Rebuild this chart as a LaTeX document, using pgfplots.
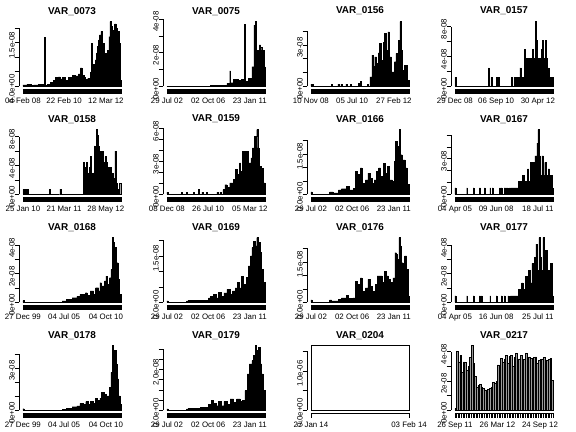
\documentclass[border=0pt]{standalone}
\usepackage{fontspec}
\setmainfont{Liberation Sans}
\usepackage{pgfplots}
\pgfplotsset{compat=1.18}
\pgfplotsset{
  rp/.style={
    scale only axis, width=106bp, height=70bp,
    xmin=-0.04, xmax=1.04,
    axis x line*=bottom, axis y line*=left,
    axis line style={draw=none},
    tick align=outside,
    major tick length=4.5bp, minor tick length=4.5bp,
    tick style={black, line width=0.75bp},
    minor xtick={0,0.005,...,1},
    xtick={0,0.42,0.845},
    ticklabel style={font=\fontsize{7.9}{9.5}\selectfont, inner sep=0pt},
    xticklabel style={anchor=north, yshift=-4.3bp},
    yticklabel style={rotate=90, anchor=base, xshift=-2.5bp},
    every axis title shift=0pt,
    title style={font=\bfseries\fontsize{10}{12}\selectfont, at={(0.5,1)}, anchor=base, yshift=5bp},
    clip=false,
    anchor=south west,
  },
  axl/.style={black, line width=0.75bp, forget plot},
  dense/.style={const plot, fill=black, draw=black, line width=0.4bp},
  sparse/.style={ybar interval, fill=black!35, draw=black, line width=0.35bp},
}
\begin{document}
\begin{tikzpicture}
\useasboundingbox (0,0) rectangle (576bp,-432bp);
\fill[white] (0,0) rectangle (576bp,-432bp);

% ---------------- row 0 ----------------
\begin{axis}[rp, at={(19bp,-89bp)}, title={VAR\_0073},
  ymin=-0.0892, ymax=2.319, ytick={0,0.5,1,1.5,2}, yticklabels={0.0e+00,,,1.5e-08,},
  xticklabels={04 Feb 08,22 Feb 10,12 Mar 12}]
\addplot[dense] coordinates {(0,0.05)(0.04,0.07)(0.08,0.04)(0.11,0.05)(0.16,0.06)(0.19,0.08)(0.215,0.03)(0.22,1.69)(0.228,0.03)(0.25,0.08)(0.28,0.13)(0.31,0.22)(0.33,0.31)(0.36,0.33)(0.38,0.26)(0.4,0.3)(0.43,0.2)(0.46,0.31)(0.50,0.39)(0.53,0.36)(0.565,0.43)(0.585,0.64)(0.60,0.39)(0.62,0.3)(0.635,0.24)(0.66,0.28)(0.69,0.5)(0.70,1.48)(0.708,0.62)(0.72,0.75)(0.735,0.91)(0.75,1.15)(0.76,1.37)(0.77,1.6)(0.78,1.77)(0.795,1.89)(0.81,1.48)(0.83,1.14)(0.85,0.97)(0.86,1.25)(0.875,1.71)(0.885,2.23)(0.895,2.06)(0.905,1.9)(0.92,1.94)(0.935,2.15)(0.95,2.0)(0.965,1.89)(0.98,1.48)(0.99,0.22)(1,0.22)} \closedcycle;
\addplot[axl] coordinates {(-0.04,0)(-0.04,2)};
\addplot[axl] coordinates {(0,-0.0892)(1,-0.0892)};
\end{axis}

\begin{axis}[rp, at={(163bp,-89bp)}, title={VAR\_0075},
  ymin=-0.154, ymax=4.004, ytick={0,1,2,3,4}, yticklabels={0e+00,,2e-08,,4e-08},
  xticklabels={29 Jul 02,02 Oct 06,23 Jan 11}]
\addplot[dense] coordinates {(0,0.02)(0.44,0.08)(0.61,0.18)(0.64,0.93)(0.648,0.22)(0.68,0.42)(0.73,0.34)(0.76,0.42)(0.79,3.7)(0.797,0.28)(0.83,0.48)(0.865,1.17)(0.885,3.64)(0.90,3.85)(0.912,2.16)(0.93,1.17)(0.94,2.46)(0.955,2.3)(0.966,2.16)(0.99,1.17)(1,1.17)} \closedcycle;
\addplot[axl] coordinates {(-0.04,0)(-0.04,4)};
\addplot[axl] coordinates {(0,-0.154)(1,-0.154)};
\end{axis}

\begin{axis}[rp, at={(307bp,-89bp)}, title={VAR\_0156},
  ymin=-0.188, ymax=4.888, ytick={0,1,2,3,4}, yticklabels={0e+00,,,3e-08,},
  xticklabels={10 Nov 08,05 Jul 10,27 Feb 12}]
\addplot[dense] coordinates {(0,0.17)(0.02,0)(0.205,0.17)(0.215,0)(0.275,0.17)(0.285,0)(0.305,0.17)(0.315,0)(0.355,0.17)(0.365,0)(0.405,0.17)(0.415,0)(0.48,0.22)(0.50,0.39)(0.515,0)(0.575,0.17)(0.585,0)(0.60,0.7)(0.62,2.27)(0.635,1.43)(0.65,2.15)(0.67,1.67)(0.685,2.44)(0.70,3.1)(0.72,1.9)(0.735,3.2)(0.75,3.84)(0.77,2.63)(0.785,3.96)(0.80,2.15)(0.82,1.06)(0.85,1.79)(0.865,2.39)(0.89,3.36)(0.905,4.7)(0.92,2.63)(0.935,1.18)(0.955,1.55)(0.98,0.46)(1,0.46)} \closedcycle;
\addplot[axl] coordinates {(-0.04,0)(-0.04,4)};
\addplot[axl] coordinates {(0,-0.188)(1,-0.188)};
\end{axis}

\begin{axis}[rp, at={(451bp,-89bp)}, title={VAR\_0157},
  ymin=-0.348, ymax=9.048, ytick={0,2,4,6,8}, yticklabels={0e+00,,4e-08,,8e-08},
  xticklabels={29 Dec 08,06 Sep 10,30 Apr 12}]
\addplot[sparse] coordinates {(0,1.24)(0.012,0)(0.34,2.49)(0.35,0)(0.365,1.24)(0.375,0)(0.42,1.24)(0.43,0)(0.445,1.24)(0.455,0)(0.575,1.24)(0.585,0)(0.60,1.24)(0.61,1.24)(0.62,1.24)(0.63,1.24)(0.64,1.24)(0.65,1.24)(0.66,2.49)(0.67,2.49)(0.68,1.24)(0.69,1.24)(0.70,1.24)(0.71,4.97)(0.72,3.73)(0.73,3.73)(0.74,1.24)(0.75,3.73)(0.76,3.73)(0.77,1.24)(0.78,3.73)(0.79,4.97)(0.80,3.73)(0.81,3.73)(0.82,8.7)(0.83,6.21)(0.84,1.24)(0.85,3.73)(0.86,3.73)(0.87,1.24)(0.88,4.97)(0.89,6.21)(0.90,1.24)(0.91,3.73)(0.92,6.21)(0.93,3.73)(0.94,1.24)(0.95,2.49)(0.96,1.24)(0.97,1.24)(0.98,1.24)(0.99,1.24)(1,0)};
\addplot[axl] coordinates {(-0.04,0)(-0.04,8)};
\addplot[axl] coordinates {(0,-0.348)(1,-0.348)};
\end{axis}

% ---------------- row 1 ----------------
\begin{axis}[rp, at={(19bp,-197bp)}, title={VAR\_0158},
  ymin=-0.36, ymax=9.36, ytick={0,2,4,6,8}, yticklabels={0e+00,,4e-08,,8e-08},
  minor xtick={0,0.01,...,1},
  xticklabels={25 Jan 10,21 Mar 11,28 May 12}]
\addplot[sparse] coordinates {(0,0.75)(0.01,0)(0.02,0.75)(0.03,0)(0.04,0.75)(0.05,0)(0.27,0.75)(0.28,0)(0.375,0.75)(0.385,0)(0.615,4.5)(0.625,3.75)(0.635,3.75)(0.645,4.5)(0.655,3.0)(0.665,2.25)(0.675,3.75)(0.685,5.25)(0.695,3.0)(0.705,2.25)(0.715,3.0)(0.725,6.75)(0.735,3.75)(0.745,9.0)(0.755,8.25)(0.765,6.75)(0.775,5.25)(0.785,6.0)(0.795,5.25)(0.805,6.0)(0.815,3.75)(0.825,4.5)(0.835,5.25)(0.845,4.5)(0.855,3.0)(0.865,3.75)(0.875,3.0)(0.885,3.75)(0.895,2.25)(0.905,3.0)(0.915,2.25)(0.925,1.5)(0.935,6.0)(0.945,1.5)(0.955,1.5)(0.965,0.75)(0.975,0.75)(0.985,1.5)(1,0)};
\addplot[axl] coordinates {(-0.04,0)(-0.04,8)};
\addplot[axl] coordinates {(0,-0.36)(1,-0.36)};
\end{axis}

\begin{axis}[rp, at={(163bp,-197bp)}, title={VAR\_0159},
  ymin=-0.236, ymax=6.136, ytick={0,1,2,3,4,5,6}, yticklabels={0e+00,,,3e-08,,,6e-08},
  xticklabels={08 Dec 08,26 Jul 10,05 Mar 12}]
\addplot[dense] coordinates {(0,0.2)(0.012,0)(0.15,0.2)(0.16,0)(0.2,0.2)(0.21,0)(0.27,0.2)(0.28,0)(0.32,0.43)(0.33,0)(0.355,0.2)(0.365,0)(0.405,0.2)(0.415,0)(0.51,0.2)(0.52,0)(0.54,0.2)(0.55,0)(0.57,0.43)(0.58,0.2)(0.59,0.88)(0.61,0.64)(0.64,1.04)(0.68,1.34)(0.695,2.26)(0.72,1.8)(0.74,2.87)(0.75,2.1)(0.77,3.93)(0.795,3.48)(0.81,3.93)(0.83,2.87)(0.855,3.32)(0.87,4.24)(0.89,5.3)(0.915,5.9)(0.925,4.24)(0.94,2.56)(0.965,2.4)(0.98,1.04)(1,1.04)} \closedcycle;
\addplot[axl] coordinates {(-0.04,0)(-0.04,6)};
\addplot[axl] coordinates {(0,-0.236)(1,-0.236)};
\end{axis}

\begin{axis}[rp, at={(307bp,-197bp)}, title={VAR\_0166},
  ymin=-0.096, ymax=2.496, ytick={0,0.5,1,1.5,2}, yticklabels={0.0e+00,,,1.5e-08,},
  xticklabels={29 Jul 02,02 Oct 06,23 Jan 11}]
\addplot[dense] coordinates {(0,0.09)(0.012,0)(0.19,0.09)(0.225,0.06)(0.28,0.17)(0.31,0.21)(0.36,0.3)(0.395,0.17)(0.43,0.23)(0.455,0.85)(0.47,0.73)(0.49,0.54)(0.505,0.98)(0.52,0.42)(0.555,0.54)(0.58,0.79)(0.60,0.6)(0.625,0.42)(0.645,0.54)(0.67,0.85)(0.69,0.98)(0.71,0.67)(0.735,1.16)(0.76,0.79)(0.78,1.04)(0.80,0.54)(0.83,0.48)(0.85,1.22)(0.86,1.96)(0.875,1.78)(0.89,1.72)(0.90,2.4)(0.91,1.47)(0.93,1.16)(0.94,1.28)(0.96,0.98)(0.98,0.36)(1,0.36)} \closedcycle;
\addplot[axl] coordinates {(-0.04,0)(-0.04,2)};
\addplot[axl] coordinates {(0,-0.096)(1,-0.096)};
\end{axis}

\begin{axis}[rp, at={(451bp,-197bp)}, title={VAR\_0167},
  ymin=-0.2184, ymax=5.678, ytick={0,1,2,3,4,5}, yticklabels={0e+00,,,3e-08,,},
  xticklabels={04 Apr 05,09 Jun 08,18 Jul 11}]
\addplot[dense] coordinates {(0,0.54)(0.01,0)(0.12,0.54)(0.128,0)(0.185,0.54)(0.193,0)(0.25,0.54)(0.258,0)(0.30,0.54)(0.308,0)(0.355,0.54)(0.363,0)(0.38,0.54)(0.388,0)(0.455,0.54)(0.463,0)(0.47,0.54)(0.478,0)(0.50,0.54)(0.508,0)(0.515,0.54)(0.523,0)(0.53,0.54)(0.538,0)(0.55,0.54)(0.558,0)(0.565,0.54)(0.575,0.54)(0.645,1.08)(0.68,1.08)(0.69,1.62)(0.71,1.08)(0.74,2.16)(0.75,1.08)(0.77,2.7)(0.785,1.62)(0.80,2.7)(0.815,3.24)(0.835,4.32)(0.845,5.46)(0.855,3.24)(0.87,1.62)(0.885,3.24)(0.90,1.62)(0.915,2.7)(0.93,1.62)(0.95,2.16)(0.965,1.62)(0.99,0.54)(1,0.54)} \closedcycle;
\addplot[axl] coordinates {(-0.04,0)(-0.04,5)};
\addplot[axl] coordinates {(0,-0.2184)(1,-0.2184)};
\end{axis}

% ---------------- row 2 ----------------
\begin{axis}[rp, at={(19bp,-305bp)}, title={VAR\_0168},
  ymin=-0.1816, ymax=4.7216, ytick={0,1,2,3,4}, yticklabels={0e+00,,2e-08,,4e-08},
  xticklabels={27 Dec 99,04 Jul 05,04 Oct 10}]
\addplot[dense] coordinates {(0,0.12)(0.012,0)(0.4,0.1)(0.445,0.2)(0.5,0.33)(0.55,0.44)(0.58,0.56)(0.635,0.68)(0.655,0.5)(0.685,0.8)(0.72,0.56)(0.74,1.03)(0.77,0.8)(0.785,1.38)(0.80,1.15)(0.83,1.5)(0.845,1.85)(0.86,1.26)(0.88,1.73)(0.895,2.3)(0.91,4.54)(0.92,4.19)(0.93,3.25)(0.94,3.84)(0.955,2.78)(0.97,1.6)(0.985,0.56)(1,0.56)} \closedcycle;
\addplot[axl] coordinates {(-0.04,0)(-0.04,4)};
\addplot[axl] coordinates {(0,-0.1816)(1,-0.1816)};
\end{axis}

\begin{axis}[rp, at={(163bp,-305bp)}, title={VAR\_0169},
  ymin=-0.0836, ymax=2.1736, ytick={0,0.5,1,1.5,2}, yticklabels={0.0e+00,,,1.5e-08,},
  xticklabels={29 Jul 02,02 Oct 06,23 Jan 11}]
\addplot[dense] coordinates {(0,0.05)(0.012,0)(0.2,0.05)(0.22,0.06)(0.425,0.15)(0.44,0.2)(0.475,0.26)(0.5,0.15)(0.525,0.33)(0.55,0.2)(0.58,0.31)(0.61,0.42)(0.645,0.26)(0.67,0.37)(0.695,0.47)(0.72,0.64)(0.74,0.47)(0.76,0.85)(0.78,0.58)(0.795,0.53)(0.81,0.8)(0.83,1.18)(0.85,1.5)(0.865,1.77)(0.88,1.98)(0.90,1.82)(0.915,2.09)(0.93,1.93)(0.95,1.61)(0.965,1.07)(0.985,0.64)(1,0.64)} \closedcycle;
\addplot[axl] coordinates {(-0.04,0)(-0.04,2)};
\addplot[axl] coordinates {(0,-0.0836)(1,-0.0836)};
\end{axis}

\begin{axis}[rp, at={(307bp,-305bp)}, title={VAR\_0176},
  ymin=-0.096, ymax=2.496, ytick={0,0.5,1,1.5,2}, yticklabels={0.0e+00,,,1.5e-08,},
  xticklabels={29 Jul 02,02 Oct 06,23 Jan 11}]
\addplot[dense] coordinates {(0,0.09)(0.012,0)(0.19,0.09)(0.21,0.06)(0.28,0.11)(0.31,0.17)(0.36,0.26)(0.38,0.14)(0.43,0.17)(0.455,0.79)(0.47,0.67)(0.49,0.54)(0.505,0.91)(0.52,0.42)(0.555,0.54)(0.58,0.85)(0.60,0.6)(0.625,0.42)(0.655,0.67)(0.675,0.98)(0.70,0.98)(0.725,0.73)(0.75,1.16)(0.77,0.98)(0.79,0.85)(0.81,0.73)(0.835,0.91)(0.855,1.84)(0.87,1.78)(0.88,1.6)(0.895,2.4)(0.91,2.09)(0.92,1.47)(0.94,1.16)(0.955,1.72)(0.975,1.22)(0.99,0.23)(1,0.23)} \closedcycle;
\addplot[axl] coordinates {(-0.04,0)(-0.04,2)};
\addplot[axl] coordinates {(0,-0.096)(1,-0.096)};
\end{axis}

\begin{axis}[rp, at={(451bp,-305bp)}, title={VAR\_0177},
  ymin=-0.1816, ymax=4.7216, ytick={0,1,2,3,4}, yticklabels={0e+00,,2e-08,,4e-08},
  xticklabels={04 Apr 05,16 Jun 08,25 Jul 11}]
\addplot[dense] coordinates {(0,0.45)(0.01,0)(0.12,0.45)(0.128,0)(0.185,0.45)(0.193,0)(0.25,0.45)(0.258,0)(0.27,0.45)(0.278,0)(0.355,0.45)(0.363,0)(0.42,0.45)(0.428,0)(0.47,0.45)(0.478,0)(0.50,0.45)(0.508,0)(0.54,0.45)(0.548,0)(0.565,0.45)(0.575,0.45)(0.645,0.91)(0.68,1.36)(0.695,0.91)(0.72,1.82)(0.735,1.36)(0.75,2.27)(0.765,1.36)(0.785,2.73)(0.80,1.82)(0.81,3.18)(0.825,4.09)(0.84,2.27)(0.855,4.54)(0.87,3.18)(0.88,2.27)(0.895,4.54)(0.91,2.73)(0.92,3.64)(0.94,1.82)(0.955,2.27)(0.97,2.73)(0.99,0.45)(1,0.45)} \closedcycle;
\addplot[axl] coordinates {(-0.04,0)(-0.04,4)};
\addplot[axl] coordinates {(0,-0.1816)(1,-0.1816)};
\end{axis}

% ---------------- row 3 ----------------
\begin{axis}[rp, at={(19bp,-413bp)}, title={VAR\_0178},
  ymin=-0.184, ymax=4.784, ytick={0,1,2,3,4}, yticklabels={0e+00,,,3e-08,},
  xticklabels={27 Dec 99,04 Jul 05,04 Oct 10}]
\addplot[dense] coordinates {(0,0.12)(0.012,0)(0.4,0.1)(0.445,0.17)(0.5,0.26)(0.55,0.33)(0.58,0.5)(0.615,0.45)(0.64,0.62)(0.665,0.45)(0.69,0.64)(0.72,0.5)(0.74,0.88)(0.76,0.69)(0.785,0.88)(0.80,1.28)(0.83,1.16)(0.845,0.73)(0.86,1.04)(0.88,1.63)(0.895,2.7)(0.91,4.6)(0.92,3.29)(0.935,4.24)(0.95,3.29)(0.96,2.23)(0.975,1.04)(0.99,0.45)(1,0.45)} \closedcycle;
\addplot[axl] coordinates {(-0.04,0)(-0.04,4)};
\addplot[axl] coordinates {(0,-0.184)(1,-0.184)};
\end{axis}

\begin{axis}[rp, at={(163bp,-413bp)}, title={VAR\_0179},
  ymin=-0.1272, ymax=3.3072, ytick={0,0.5,1,1.5,2,2.5,3}, yticklabels={0.0e+00,,,,2.0e-08,,},
  xticklabels={29 Jul 02,02 Oct 06,23 Jan 11}]
\addplot[dense] coordinates {(0,0.08)(0.012,0)(0.2,0.08)(0.22,0.11)(0.34,0.15)(0.42,0.31)(0.45,0.48)(0.475,0.34)(0.5,0.23)(0.525,0.44)(0.55,0.23)(0.58,0.44)(0.61,0.31)(0.645,0.56)(0.68,0.39)(0.71,0.56)(0.745,0.44)(0.77,0.48)(0.795,0.97)(0.82,1.79)(0.84,2.28)(0.865,2.44)(0.88,2.69)(0.90,3.18)(0.91,2.61)(0.92,2.93)(0.935,3.1)(0.95,2.28)(0.965,1.79)(0.98,0.97)(1,0.97)} \closedcycle;
\addplot[axl] coordinates {(-0.04,0)(-0.04,3)};
\addplot[axl] coordinates {(0,-0.1272)(1,-0.1272)};
\end{axis}

\begin{axis}[rp, at={(307bp,-413bp)}, title={VAR\_0204},
  ymin=-0.066, ymax=1.716, ytick={0,0.5,1,1.5}, yticklabels={0.0e+00,,1.0e-06,},
  minor xtick={},
  xtick={0,1}, xticklabels={27 Jan 14,03 Feb 14}]
\addplot[ybar interval, fill=white, draw=black, line width=0.75bp] coordinates {(0,1.65)(1,0)};
\addplot[axl] coordinates {(-0.04,0)(-0.04,1.5)};
\addplot[axl] coordinates {(0,-0.066)(1,-0.066)};
\end{axis}

\begin{axis}[rp, at={(451bp,-413bp)}, title={VAR\_0217},
  xmin=-2.4, xmax=62.4, minor xtick={0,1,...,60},
  ymin=-0.1764, ymax=4.5864, ytick={0,1,2,3,4}, yticklabels={0e+00,,2e-08,,4e-08},
  xtick={0,26,52}, xticklabels={26 Sep 11,26 Mar 12,24 Sep 12}]
\addplot[ybar interval, fill=black!40, draw=black, line width=0.5bp] coordinates {(0,0.14)(1,4.0)(2,3.3)(3,3.75)(4,2.6)(5,3.3)(6,3.25)(7,2.7)(8,3.0)(9,3.6)(10,4.41)(11,3.2)(12,2.3)(13,1.55)(14,1.7)(15,1.75)(16,1.6)(17,1.5)(18,1.4)(19,1.35)(20,1.45)(21,1.5)(22,1.6)(23,1.9)(24,1.85)(25,2.0)(26,3.1)(27,2.6)(28,3.55)(29,3.3)(30,3.5)(31,3.75)(32,3.2)(33,3.7)(34,3.75)(35,3.0)(36,3.6)(37,3.9)(38,3.3)(39,3.5)(40,3.75)(41,3.25)(42,3.45)(43,3.9)(44,3.5)(45,3.65)(46,3.55)(47,3.5)(48,3.6)(49,3.65)(50,3.2)(51,3.4)(52,3.45)(53,3.5)(54,3.6)(55,3.3)(56,3.4)(57,3.45)(58,3.55)(59,2.05)(60,0)};
\addplot[axl] coordinates {(-2.4,0)(-2.4,4)};
\addplot[axl] coordinates {(0,-0.1764)(60,-0.1764)};
\end{axis}
\end{tikzpicture}
\end{document}
